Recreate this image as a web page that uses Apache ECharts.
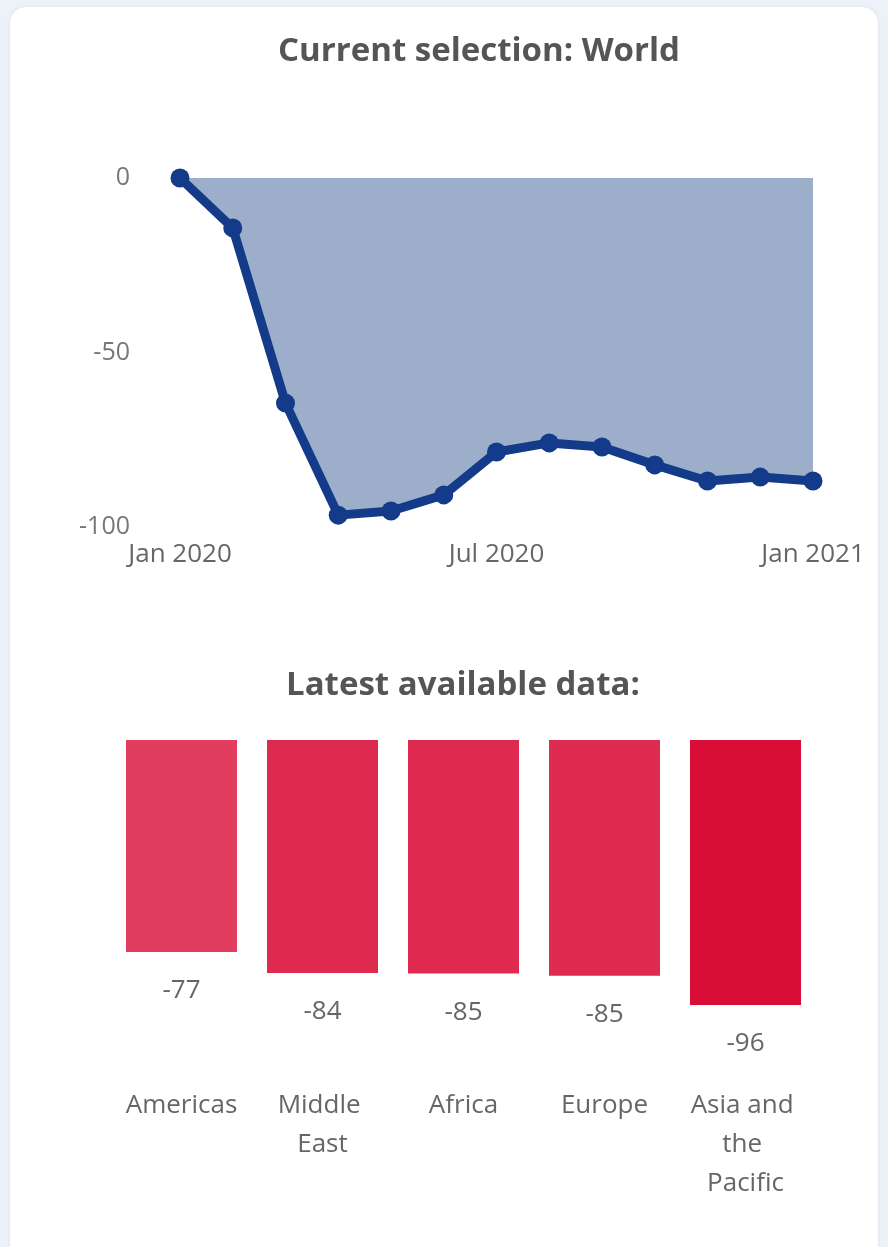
<!DOCTYPE html>
<html>
<head>
<meta charset="utf-8">
<script src="https://cdn.jsdelivr.net/npm/echarts@6/dist/echarts.min.js"></script>
<style>
  html, body { margin: 0; padding: 0; width: 888px; height: 1247px; overflow: hidden; background: #edf1f8; }
  #card { position: absolute; left: 10px; top: 7px; width: 868px; height: 1270px; background: #ffffff; border-radius: 16px; box-shadow: 0 0 3px rgba(180,190,210,0.35); }
  #chart { position: absolute; left: 0; top: 0; width: 888px; height: 1247px; }
</style>
</head>
<body>
<div id="card"></div>
<div id="chart"></div>
<script>
// ---- data ----
const months = ['Jan 2020','Feb 2020','Mar 2020','Apr 2020','May 2020','Jun 2020','Jul 2020','Aug 2020','Sep 2020','Oct 2020','Nov 2020','Dec 2020','Jan 2021'];
const worldValues = [0, -14.3, -64.5, -96.6, -95.4, -90.8, -78.5, -75.9, -77.1, -82.2, -86.8, -85.7, -86.8];
const regions = ['Americas', 'Middle East', 'Africa', 'Europe', 'Asia and the Pacific'];
const regionValues = [-76.8, -84.4, -84.6, -85.4, -96.0];
const regionColors = ['#e03d5f', '#df2a4f', '#de2a4f', '#df2b4f', '#d80e37'];
const lineTicks = [0, -50, -100];

const FONT = '"Open Sans", "Noto Sans", sans-serif';

const chart = echarts.init(document.getElementById('chart'), null, { renderer: 'canvas' });
chart.setOption({
  backgroundColor: 'transparent',
  animation: false,
  textStyle: { fontFamily: FONT },
  title: [
    { text: 'Current selection: World', left: 474, top: 30, textAlign: 'center',
      textStyle: { fontFamily: FONT, fontSize: 33, fontWeight: 'bold', color: '#555555' } },
    { text: 'Latest available data:', left: 458, top: 664, textAlign: 'center',
      textStyle: { fontFamily: FONT, fontSize: 33, fontWeight: 'bold', color: '#555555' } }
  ],
  grid: [
    { left: 180, top: 178, width: 633, height: 349, containLabel: false },
    { left: 111, top: 740, width: 705, height: 276, containLabel: false }
  ],
  xAxis: [
    { gridIndex: 0, type: 'category', data: months, boundaryGap: false,
      axisLine: { show: false }, axisTick: { show: false }, splitLine: { show: false },
      axisLabel: { interval: 5, margin: 15, fontSize: 26, color: '#666666', fontFamily: FONT } },
    { gridIndex: 1, type: 'category', data: regions, position: 'bottom',
      axisLine: { show: false, onZero: false }, axisTick: { show: false }, splitLine: { show: false },
      axisLabel: { interval: 0, margin: 70, fontSize: 26, lineHeight: 39, color: '#666666', fontFamily: FONT,
        width: 120, overflow: 'break', align: 'center' } }
  ],
  yAxis: [
    { gridIndex: 0, type: 'value', min: -100, max: 0, interval: 50,
      axisLine: { show: false }, axisTick: { show: false }, splitLine: { show: false },
      axisLabel: { margin: 50, fontSize: 25, color: '#777777', fontFamily: FONT,
        formatter: function (v) { return lineTicks.indexOf(v) >= 0 ? String(v) : ''; } } },
    { gridIndex: 1, type: 'value', min: -100, max: 0, show: false,
      axisLine: { show: false }, splitLine: { show: false }, axisLabel: { show: false } }
  ],
  series: [
    { type: 'line', xAxisIndex: 0, yAxisIndex: 0, data: worldValues,
      symbol: 'circle', symbolSize: 19, showSymbol: true,
      lineStyle: { color: '#143a8a', width: 9 },
      itemStyle: { color: '#143a8a' },
      areaStyle: { color: '#9daecb', opacity: 1, origin: 'end' },
      z: 3 },
    { type: 'bar', xAxisIndex: 1, yAxisIndex: 1, barWidth: 111,
      data: regionValues.map(function (v, i) { return { value: v, itemStyle: { color: regionColors[i] } }; }),
      label: { show: true, position: 'bottom', distance: 26, fontSize: 26, color: '#666666', fontFamily: FONT,
        formatter: function (p) { return String(Math.round(p.value)); } } }
  ]
});
</script>
</body>
</html>
